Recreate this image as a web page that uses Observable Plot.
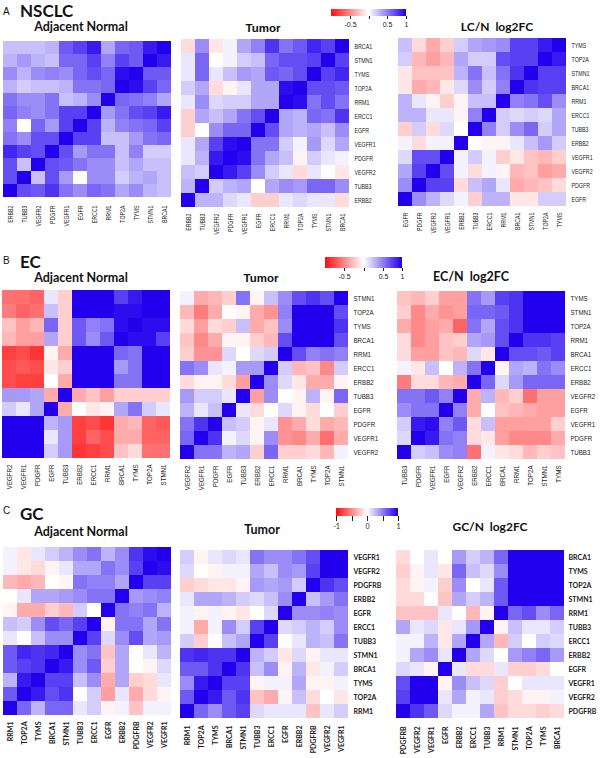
<!DOCTYPE html>
<html><head><meta charset="utf-8">
<script src="https://cdn.jsdelivr.net/npm/d3@7"></script>
<script src="https://cdn.jsdelivr.net/npm/@observablehq/plot@0.6"></script>
<style>
body{margin:0;background:#fff}
#root{position:relative;width:602px;height:758px;overflow:hidden;background:#fff}
</style></head>
<body><div id="root"></div>
<script>
// ---------- gene orders (columns left→right; rows are the reverse, top→bottom) ----------
const nsclcOrder = ["ERBB2","TUBB3","VEGFR2","PDGFR","VEGFR1","EGFR","ERCC1","RRM1","TOP2A","TYMS","STMN1","BRCA1"];
const nsclcFcOrder = ["EGFR","PDGFR","VEGFR2","VEGFR1","ERBB2","TUBB3","ERCC1","RRM1","BRCA1","STMN1","TOP2A","TYMS"];
const ecOrder = ["VEGFR2","VEGFR1","PDGFR","EGFR","TUBB3","ERBB2","ERCC1","RRM1","BRCA1","TYMS","TOP2A","STMN1"];
const ecFcOrder = ["TUBB3","PDGFR","VEGFR1","EGFR","VEGFR2","ERBB2","ERCC1","BRCA1","RRM1","TOP2A","STMN1","TYMS"];
const gcOrder = ["RRM1","TOP2A","TYMS","BRCA1","STMN1","TUBB3","ERCC1","EGFR","ERBB2","PDGFRB","VEGFR2","VEGFR1"];
const gcFcOrder = ["PDGFRB","VEGFR2","VEGFR1","EGFR","ERBB2","ERCC1","TUBB3","RRM1","STMN1","TOP2A","TYMS","BRCA1"];

// ---------- titles ----------
const panelLetters = ["A","B","C"];
const panelNames = ["NSCLC","EC","GC"];
const normalTitle = "Adjacent Normal";
const tumorTitle = "Tumor";
const fcTitles = ["LC/N  log2FC","EC/N  log2FC","GC/N  log2FC"];
const barTicksAB = [-0.5, 0, 0.5, 1];
const barTicksC = [-1, -0.5, 0, 0.5, 1];
const barLabelsAB = ["-0.5", "", "0.5", "1"];
const barLabelsC = ["-1", "", "0", "", "1"];

// ---------- correlation values (rows top→bottom) ----------
const nsclcNormal = [
 [0.25,0.25,0.25,0.3,0.65,0.75,0.9,0.35,0.6,0.65,0.9,1],
 [0.3,0.4,0.3,0.25,0.6,0.6,0.75,0.5,0.75,0.65,1,0.9],
 [0.45,0.3,0.45,0.5,0.45,0.6,0.7,0.6,0.95,1,0.65,0.65],
 [0.3,0.2,0.25,0.25,0.3,0.55,0.55,0.6,1,0.95,0.75,0.6],
 [0.55,0.45,0.45,0.55,0.25,0.3,0.45,1,0.6,0.55,0.5,0.35],
 [0.6,0.5,0.45,0.55,0.75,0.75,1,0.4,0.55,0.7,0.75,0.9],
 [0.5,0,0.6,0.4,0.75,1,0.75,0.3,0.5,0.55,0.6,0.75],
 [0.55,0.45,0.7,0.7,1,0.75,0.75,0.25,0.25,0.4,0.55,0.6],
 [0.85,0.75,0.7,1,0.7,0.4,0.55,0.55,0.25,0.5,0.2,0.2],
 [0.7,0.25,1,0.7,0.65,0.55,0.45,0.45,0.25,0.35,0.25,0.25],
 [0.7,1,0.25,0.7,0.4,0,0.45,0.45,0.2,0.3,0.35,0.25],
 [1,0.7,0.65,0.8,0.55,0.45,0.6,0.55,0.35,0.45,0.3,0.25]
];
const nsclcTumor = [
 [-0.15,0.45,-0.1,0.05,0.35,0.5,0.8,0.55,0.65,0.85,0.75,1],
 [0.1,0.6,0,0.05,0.2,0.25,0.6,0.7,0.7,0.75,1,0.75],
 [0.1,0.6,0.1,0.25,0.4,0.35,0.65,0.6,0.7,1,0.75,0.85],
 [0.2,0.35,-0.15,-0.05,0.1,0.35,0.35,0.95,1,0.7,0.7,0.65],
 [0.1,0.45,0.15,0.2,0.2,0.35,0.35,1,0.95,0.55,0.7,0.55],
 [-0.2,0.35,0.25,0.35,0.55,0.7,1,0.35,0.3,0.6,0.55,0.8],
 [-0.2,0,0.45,0.6,0.6,1,0.7,0.35,0.3,0.35,0.25,0.45],
 [0.1,0.35,0.75,0.95,1,0.55,0.55,0.2,0.05,0.4,0.15,0.35],
 [0.1,0.3,0.9,1,0.95,0.55,0.35,0.25,-0.05,0.2,0.1,0.05],
 [0.25,0.2,1,0.9,0.75,0.45,0.2,0.1,-0.15,0.1,0,-0.1],
 [0.3,1,0.2,0.3,0.35,0,0.35,0.45,0.4,0.6,0.6,0.45],
 [1,0.3,0.3,0.15,0.1,-0.2,-0.2,0.1,0.15,0.1,0.1,-0.15]
];
const nsclcFC = [
 [0.25,-0.15,-0.35,-0.2,0.2,0.35,0.4,0.45,0.75,0.75,0.9,1],
 [0.2,-0.3,-0.4,-0.3,0.35,0.2,0.2,0.7,0.75,0.75,1,0.9],
 [-0.1,-0.25,-0.25,-0.25,0.3,0.55,0.25,0.55,0.8,1,0.75,0.75],
 [-0.1,-0.35,-0.3,-0.1,0.15,0.45,0.2,0.5,1,0.8,0.75,0.75],
 [0.3,0.1,-0.05,-0.2,-0.05,0.25,0.25,1,0.5,0.55,0.7,0.45],
 [0.3,0.3,0.1,0.1,-0.05,0.5,1,0.2,0.15,0.2,0.15,0.35],
 [-0.2,0.2,-0.15,0.15,0,1,0.5,0.2,0.45,0.6,0.2,0.35],
 [0.05,-0.15,0.05,0.05,1,0,-0.05,-0.05,0.1,0.25,0.4,0.2],
 [0.15,0.7,0.7,1,0.05,0.2,0.05,-0.2,-0.1,-0.25,-0.3,-0.2],
 [0.35,0.75,1,0.7,0.05,-0.15,0.05,-0.05,-0.3,-0.25,-0.4,-0.35],
 [0.45,1,0.75,0.75,-0.15,0.25,0.35,0.1,-0.35,-0.3,-0.25,-0.15],
 [1,0.45,0.3,0.15,0.05,-0.2,0.3,0.3,-0.1,-0.1,0.2,0.2]
];
const ecNormal = [
 [-0.6,-0.6,-0.65,0.1,-0.2,1,1,1,0.75,0.9,1,1],
 [-0.55,-0.65,-0.6,0.25,-0.2,1,1,1,0.95,0.95,1,1],
 [-0.25,-0.4,-0.3,0.6,-0.2,0.65,0.5,0.55,0.95,1,0.95,0.95],
 [-0.3,-0.4,-0.4,0.35,-0.2,0.65,0.45,0.65,1,0.95,0.95,0.75],
 [-0.8,-0.75,-0.85,-0.05,-0.35,1,1,1,0.6,0.55,1,1],
 [-0.75,-0.7,-0.75,-0.1,-0.2,1,1,1,0.4,0.55,1,1],
 [-0.75,-0.8,-0.8,0,-0.35,1,1,1,0.55,0.55,1,1],
 [0.4,0.4,0.35,-0.35,1,-0.35,-0.25,-0.4,-0.2,-0.2,-0.2,-0.2],
 [0.2,0.1,0.35,1,-0.35,0,-0.1,-0.05,0.35,0.55,0.2,0.1],
 [1,1,1,0.3,0.4,-0.8,-0.75,-0.85,-0.35,-0.3,-0.65,-0.7],
 [1,1,1,0.1,0.4,-0.8,-0.65,-0.75,-0.35,-0.35,-0.65,-0.65],
 [1,1,1,0.2,0.4,-0.85,-0.8,-0.75,-0.25,-0.15,-0.6,-0.6]
];
const ecTumor = [
 [0.05,-0.35,-0.3,-0.2,0.55,-0.05,0.25,0.45,0.7,0.8,0.7,1],
 [-0.3,-0.55,-0.35,0,-0.05,-0.35,-0.45,0.5,1,1,1,0.7],
 [-0.15,-0.4,-0.15,-0.2,0.25,-0.35,-0.25,0.45,1,1,1,0.8],
 [-0.25,-0.5,-0.35,-0.05,-0.05,-0.2,-0.3,0.7,1,1,1,0.7],
 [-0.2,-0.45,-0.45,0.15,0,0.15,0.2,1,0.7,0.5,0.55,0.5],
 [0.55,0.45,0.1,0.05,0.4,0.4,1,0.2,-0.3,-0.25,-0.5,0.2],
 [-0.15,-0.05,-0.05,-0.15,-0.4,1,0.45,0.15,-0.1,-0.35,-0.35,-0.05],
 [0.4,0.2,0.2,0.1,1,-0.4,0.45,0,-0.05,0.3,-0.05,0.6],
 [0.3,0.1,0.25,1,0.1,-0.15,0,0.15,-0.05,-0.15,0,-0.2],
 [0.55,0.8,1,0.25,0.2,-0.05,0.1,-0.45,-0.35,-0.15,-0.35,-0.3],
 [0.6,1,0.8,0.05,0.15,-0.05,0.45,-0.45,-0.5,-0.35,-0.6,-0.35],
 [1,0.55,0.55,0.3,0.35,-0.2,0.6,-0.2,-0.2,-0.15,-0.3,0.05]
];
const ecFC = [
 [-0.25,-0.3,-0.2,-0.4,-0.4,0.55,0.4,0.75,0.8,1,1,1],
 [-0.2,-0.5,-0.35,-0.45,-0.4,0.6,0.6,0.65,0.8,1,1,1],
 [-0.35,-0.5,-0.4,-0.35,-0.65,0.55,0.35,0.7,0.8,1,1,1],
 [-0.15,-0.5,-0.4,-0.25,-0.2,0.35,0.4,0.7,1,0.8,0.8,0.75],
 [-0.15,-0.4,-0.4,-0.25,-0.3,0.15,-0.1,1,0.7,0.7,0.65,0.75],
 [0.05,-0.1,0.25,0,0.3,0.55,1,-0.05,0.35,0.3,0.55,0.45],
 [-0.55,-0.15,-0.15,-0.3,-0.35,1,0.6,0.15,0.4,0.6,0.6,0.6],
 [0.55,0.55,0.65,0.5,1,-0.35,0.3,-0.3,-0.2,-0.6,-0.4,-0.4],
 [0.45,0.55,0.55,1,0.5,-0.35,0,-0.25,-0.3,-0.35,-0.4,-0.4],
 [0.2,0.9,0.95,0.5,0.65,-0.15,0.25,-0.4,-0.4,-0.4,-0.4,-0.2],
 [0.15,1,0.9,0.55,0.5,-0.15,-0.1,-0.4,-0.5,-0.5,-0.5,-0.35],
 [1,0.2,0.25,0.45,0.5,-0.6,0.05,-0.1,-0.15,-0.3,-0.2,-0.25]
];
const gcNormal = [
 [0.05,-0.1,0.1,0.2,0.3,0.45,0.55,0.3,0.45,0.8,0.95,1],
 [0.05,-0.1,-0.15,-0.05,0.1,0.35,0.35,0.55,0.45,0.75,1,0.95],
 [-0.3,-0.35,-0.3,0,-0.05,0.55,0.5,0.5,0.35,1,0.75,0.75],
 [0,0.1,0.35,0.35,0.4,0.45,0.55,0.55,1,0.4,0.45,0.5],
 [-0.05,-0.35,-0.35,-0.2,-0.3,0.2,0,1,0.55,0.5,0.55,0.3],
 [0.25,0.2,0.45,0.7,0.6,0.75,1,-0.05,0.55,0.55,0.35,0.55],
 [0.1,0,0.25,0.45,0.45,1,0.75,0.15,0.45,0.7,0.35,0.4],
 [0.65,0.85,0.8,0.85,1,0.45,0.55,-0.25,0.35,0,0.1,0.3],
 [0.65,0.75,0.8,1,0.9,0.45,0.65,-0.2,0.35,0,-0.05,0.15],
 [0.3,0.9,1,0.75,0.75,0.25,0.45,-0.35,0.35,-0.2,-0.15,0.1],
 [0.65,1,0.9,0.7,0.8,0,0.2,-0.4,0.1,-0.35,-0.15,-0.05],
 [1,0.6,0.3,0.6,0.6,0.1,0.2,-0.05,0.05,-0.25,0.05,0.05]
];
const gcTumor = [
 [0.2,-0.05,0.1,0.15,0.1,0.55,0.45,0.45,0.55,0.7,1,1],
 [0.15,0,-0.05,0.05,0.05,0.35,0.25,0.45,0.4,0.75,1,1],
 [-0.2,-0.15,-0.1,-0.1,-0.05,0.4,0.35,0.4,0.2,1,0.8,0.7],
 [0.1,0.35,0.35,0.3,0.2,0.15,0.25,0.45,1,0.25,0.4,0.55],
 [0.05,-0.05,0.05,-0.05,-0.1,0,0.15,1,0.45,0.45,0.5,0.45],
 [0.05,-0.35,0.05,0.45,0.2,0.75,1,0.15,0.2,0.3,0.2,0.45],
 [0.2,-0.2,0,0.25,0.35,1,0.75,0,0.1,0.3,0.25,0.55],
 [0.8,0.85,0.8,0.8,1,0.3,0.2,-0.1,0.15,-0.05,0.1,0.1],
 [0.65,0.65,0.8,1,0.8,0.25,0.45,-0.05,0.3,-0.1,0.05,0.2],
 [0.45,0.9,1,0.75,0.75,-0.05,0.05,0.05,0.35,-0.05,-0.05,0.05],
 [0.65,1,0.9,0.65,0.8,-0.25,-0.35,-0.05,0.25,-0.15,0,-0.1],
 [1,0.6,0.45,0.65,0.75,0.15,0.1,0.1,0.1,-0.25,0.1,0.2]
];
const gcFC = [
 [-0.15,0,0.1,0,0.4,0.2,0.3,0.6,1,1,1,1],
 [-0.2,-0.05,0.1,-0.1,0.6,0.25,0.15,0.45,1,1,1,1],
 [-0.15,-0.05,0.05,-0.2,0.45,0,0.1,0.65,1,1,1,1],
 [-0.15,-0.15,0,-0.25,0.35,0.2,0.3,0.65,1,1,1,1],
 [-0.25,-0.25,-0.25,0.1,0,-0.3,-0.05,1,0.6,0.7,0.45,0.6],
 [0.35,0.1,0.15,-0.1,0.1,0.4,1,-0.05,0.25,0.1,0.1,0.2],
 [0.05,0.05,0.3,-0.1,0.35,1,0.35,-0.3,0.2,0,0.2,0.15],
 [0.05,0.35,0.45,0.1,1,0.35,0.15,0,0.4,0.5,0.6,0.4],
 [0.15,0.1,-0.05,1,0.1,-0.15,-0.15,0.1,-0.2,-0.2,-0.15,0],
 [0.7,1,1,-0.05,0.45,0.25,0.15,-0.2,0,0.1,0.1,0.1],
 [0.75,1,1,0.1,0.35,0.05,0.1,-0.2,-0.15,-0.05,-0.05,0.05],
 [1,0.8,0.65,0.15,0.05,0.05,0.35,-0.25,-0.15,-0.15,-0.2,-0.15]
];

// ---------- drawing ----------
const root = document.getElementById("root");
const colorOpts = {type: "linear", domain: [-1, 0, 1], range: ["#ff1010", "#ffffff", "#2200ee"], interpolate: "rgb"};

const fontAB_A = {family: "'Liberation Sans', Arial, sans-serif", size: 6.6, weight: "normal", condense: 0.8};
const fontAB_B = {family: "'Liberation Sans', Arial, sans-serif", size: 7.2, weight: "normal", condense: 0.86};
const fontC = {family: "Lato, 'Open Sans', sans-serif", size: 7, weight: "bold", condense: 0};

function heatmap(cfg) {
  const cols = cfg.cols, rows = cols.slice().reverse();
  const data = cfg.vals.flatMap((r, i) => r.map((v, j) => ({row: rows[i], col: cols[j], v})));
  const mr = cfg.rowLabels ? 36 : 2;
  const mb = 40;
  const svg = Plot.plot({
    width: cfg.w + mr, height: cfg.h + mb,
    marginLeft: 0, marginTop: 0, marginRight: mr, marginBottom: mb,
    style: {background: "transparent", fontFamily: cfg.font.family, fontSize: cfg.font.size + "px",
            fontWeight: cfg.font.weight, color: "#1a1a1a", overflow: "visible"},
    x: {domain: cols, padding: 0, tickSize: 0, tickPadding: 4, tickRotate: -90, label: null},
    y: {domain: rows, padding: 0, tickSize: 0, tickPadding: 3, label: null, axis: cfg.rowLabels ? "right" : null},
    color: colorOpts,
    marks: [Plot.cell(data, {x: "col", y: "row", fill: "v", inset: 0, shapeRendering: "crispEdges"})]
  });
  svg.style.position = "absolute";
  svg.style.left = cfg.left + "px";
  svg.style.top = cfg.top + "px";
  svg.style.maxWidth = "none";
  root.appendChild(svg);
  if (cfg.font.condense) {
    svg.querySelectorAll("text").forEach(t => {
      const L = t.getComputedTextLength();
      if (L > 0) { t.setAttribute("textLength", (L * cfg.font.condense).toFixed(2)); t.setAttribute("lengthAdjust", "spacingAndGlyphs"); }
    });
  }
}

function colorbar(cfg) {
  const pad = 8;
  const el = Plot.legend({
    color: colorOpts,
    legend: "ramp",
    width: cfg.w + 2 * pad, height: cfg.barH + 18,
    marginLeft: pad, marginRight: pad, marginTop: 0, marginBottom: 18,
    ticks: cfg.ticks,
    tickFormat: d => cfg.labels[cfg.ticks.indexOf(d)],
    tickSize: cfg.tickSize,
    label: null,
    style: {background: "transparent", fontFamily: cfg.family, fontSize: "7px", color: "#222", overflow: "visible"}
  });
  el.style.position = "absolute";
  el.style.left = (cfg.left - pad) + "px";
  el.style.top = cfg.top + "px";
  el.style.maxWidth = "none";
  el.style.background = "transparent";
  root.appendChild(el);
  d3.select(el).selectAll(".tick line").attr("y1", 0).attr("y2", cfg.tickSize).attr("stroke", "#222");
}

// Panel A
heatmap({cols: nsclcOrder, vals: nsclcNormal, left: 0, top: 37, w: 173, h: 164, rowLabels: false, font: fontAB_A});
heatmap({cols: nsclcOrder, vals: nsclcTumor, left: 178, top: 37, w: 173, h: 172, rowLabels: true, font: fontAB_A});
heatmap({cols: nsclcFcOrder, vals: nsclcFC, left: 395, top: 35, w: 173, h: 173, rowLabels: true, font: fontAB_A});
colorbar({left: 331, top: 9, w: 75, barH: 7, ticks: barTicksAB, labels: barLabelsAB, tickSize: 3, family: "'Liberation Sans', Arial, sans-serif"});
// Panel B
heatmap({cols: ecOrder, vals: ecNormal, left: 0, top: 288, w: 172, h: 172, rowLabels: false, font: fontAB_B});
heatmap({cols: ecOrder, vals: ecTumor, left: 177, top: 288, w: 173, h: 173, rowLabels: true, font: fontAB_B});
heatmap({cols: ecFcOrder, vals: ecFC, left: 395, top: 288, w: 172, h: 173, rowLabels: true, font: fontAB_B});
colorbar({left: 325, top: 257, w: 77, barH: 11, ticks: barTicksAB, labels: barLabelsAB, tickSize: 3, family: "'Liberation Sans', Arial, sans-serif"});
// Panel C
heatmap({cols: gcOrder, vals: gcNormal, left: 0, top: 545, w: 173, h: 172, rowLabels: false, font: fontC});
heatmap({cols: gcOrder, vals: gcTumor, left: 177, top: 546, w: 173, h: 175, rowLabels: true, font: fontC});
heatmap({cols: gcFcOrder, vals: gcFC, left: 395, top: 546, w: 170, h: 176, rowLabels: true, font: fontC});
colorbar({left: 336, top: 508, w: 62, barH: 8, ticks: barTicksC, labels: barLabelsC, tickSize: 5, family: "Lato, 'Open Sans', sans-serif"});

// ---------- titles ----------
const overlay = d3.select(root).append("svg")
  .attr("width", 602).attr("height", 758)
  .style("position", "absolute").style("left", 0).style("top", 0).style("pointer-events", "none");
const cal = "Lato, 'Open Sans', sans-serif";
const ari = "'Liberation Sans', Arial, sans-serif";
const titleSpecs = [
  {t: panelLetters[0], x: 3, y: 15, f: ari, s: 10, w: "normal", a: "start"},
  {t: panelNames[0], x: 20, y: 17, f: cal, s: 17, w: "bold", a: "start"},
  {t: normalTitle, x: 81, y: 31, f: cal, s: 12.5, w: "bold", a: "middle"},
  {t: tumorTitle, x: 263, y: 32, f: ari, s: 11.5, w: "bold", a: "middle"},
  {t: fcTitles[0], x: 497, y: 31, f: cal, s: 12, w: "bold", a: "middle"},
  {t: panelLetters[1], x: 3, y: 264, f: ari, s: 10, w: "normal", a: "start"},
  {t: panelNames[1], x: 20, y: 268, f: cal, s: 17, w: "bold", a: "start"},
  {t: normalTitle, x: 81, y: 282, f: cal, s: 12.5, w: "bold", a: "middle"},
  {t: tumorTitle, x: 261, y: 282, f: ari, s: 11.5, w: "bold", a: "middle"},
  {t: fcTitles[1], x: 471, y: 281, f: cal, s: 12.5, w: "bold", a: "middle"},
  {t: panelLetters[2], x: 3, y: 514, f: ari, s: 10, w: "normal", a: "start"},
  {t: panelNames[2], x: 20, y: 520, f: cal, s: 17, w: "bold", a: "start"},
  {t: normalTitle, x: 81, y: 536, f: cal, s: 12.5, w: "bold", a: "middle"},
  {t: tumorTitle, x: 262, y: 534, f: cal, s: 12.5, w: "bold", a: "middle"},
  {t: fcTitles[2], x: 490, y: 531, f: cal, s: 12, w: "bold", a: "middle"}
];
overlay.selectAll("text").data(titleSpecs).join("text")
  .attr("x", d => d.x).attr("y", d => d.y)
  .attr("text-anchor", d => d.a)
  .style("font-family", d => d.f).style("font-size", d => d.s + "px").style("font-weight", d => d.w)
  .style("white-space", "pre").attr("fill", "#111")
  .text(d => d.t);
</script>
</body></html>
